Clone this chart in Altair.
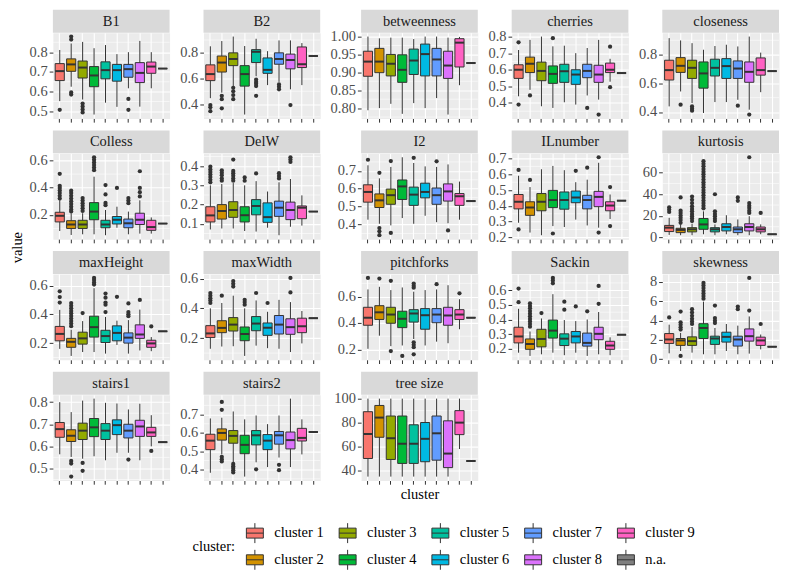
import altair as alt
import pandas as pd

FONT = "Liberation Serif"
CLUSTERS = [f"cluster {i}" for i in range(1, 10)] + ["n.a."]
COLORS = ["#F8766D", "#D39200", "#93AA00", "#00BA38", "#00C19F",
          "#00B9E3", "#619CFF", "#DB72FB", "#FF61C3", "#7F7F7F"]

# per cluster: [lower whisker, q1, median, q3, upper whisker]
B1_stats = [[0.552, 0.656, 0.704, 0.742, 0.811], [0.625, 0.703, 0.738, 0.766, 0.844],
            [0.560, 0.669, 0.722, 0.755, 0.852], [0.484, 0.625, 0.682, 0.727, 0.820],
            [0.544, 0.665, 0.709, 0.751, 0.836], [0.523, 0.653, 0.709, 0.738, 0.790],
            [0.617, 0.673, 0.714, 0.738, 0.800], [0.524, 0.646, 0.695, 0.747, 0.857],
            [0.617, 0.693, 0.727, 0.750, 0.800], [0.717, 0.717, 0.717, 0.717, 0.717]]
B1_out = [[0.508], [0.879, 0.864, 0.596, 0.585], [0.540, 0.525, 0.510, 0.495], [], [], [],
          [0.563, 0.508], [], [], []]

B2_stats = [[0.446, 0.583, 0.634, 0.706, 0.851], [0.489, 0.650, 0.724, 0.775, 0.892],
            [0.540, 0.700, 0.752, 0.800, 0.927], [0.318, 0.540, 0.634, 0.700, 0.853],
            [0.617, 0.724, 0.808, 0.825, 0.910], [0.548, 0.640, 0.667, 0.760, 0.813],
            [0.573, 0.711, 0.752, 0.800, 0.897], [0.515, 0.675, 0.744, 0.790, 0.897],
            [0.548, 0.685, 0.711, 0.846, 0.876], [0.775, 0.775, 0.775, 0.775, 0.775]]
B2_out = [[0.392, 0.375, 0.344], [0.464, 0.438, 0.367], [0.527, 0.500, 0.470, 0.438], [],
          [0.591, 0.573, 0.558, 0.540, 0.464], [], [0.553, 0.535, 0.515], [0.392], [], []]

betweenness_stats = [[0.794, 0.889, 0.930, 0.959, 1.000], [0.800, 0.899, 0.930, 0.967, 0.995],
                     [0.812, 0.890, 0.924, 0.950, 0.997], [0.784, 0.872, 0.907, 0.949, 0.997],
                     [0.814, 0.894, 0.933, 0.965, 0.993], [0.800, 0.890, 0.951, 0.979, 1.000],
                     [0.828, 0.890, 0.936, 0.967, 1.000], [0.782, 0.883, 0.919, 0.959, 0.997],
                     [0.864, 0.915, 0.983, 0.994, 0.999], [0.926, 0.926, 0.926, 0.926, 0.926]]
betweenness_out = [[], [], [], [], [], [], [], [], [], []]

cherries_stats = [[0.440, 0.548, 0.600, 0.630, 0.719], [0.479, 0.583, 0.636, 0.676, 0.780],
                  [0.380, 0.534, 0.593, 0.646, 0.800], [0.370, 0.518, 0.575, 0.623, 0.741],
                  [0.404, 0.524, 0.591, 0.633, 0.745], [0.390, 0.512, 0.571, 0.600, 0.700],
                  [0.445, 0.552, 0.593, 0.633, 0.731], [0.420, 0.524, 0.571, 0.627, 0.780],
                  [0.528, 0.583, 0.600, 0.640, 0.666], [0.580, 0.580, 0.580, 0.580, 0.580]]
cherries_out = [[0.765, 0.390], [0.445], [], [0.790], [], [], [0.370], [0.330], [0.739, 0.495], []]

closeness_stats = [[0.439, 0.623, 0.692, 0.761, 0.915], [0.543, 0.676, 0.722, 0.779, 0.899],
                   [0.462, 0.634, 0.708, 0.761, 0.880], [0.393, 0.566, 0.669, 0.749, 0.834],
                   [0.469, 0.651, 0.708, 0.768, 0.860], [0.469, 0.634, 0.720, 0.772, 0.869],
                   [0.485, 0.634, 0.703, 0.756, 0.857], [0.416, 0.607, 0.680, 0.749, 0.926],
                   [0.538, 0.657, 0.692, 0.777, 0.814], [0.685, 0.685, 0.685, 0.685, 0.685]]
closeness_out = [[], [0.451], [0.439, 0.423, 0.409], [], [], [], [0.444], [0.382], [], []]

Colless_stats = [[0.081, 0.148, 0.193, 0.219, 0.307], [0.052, 0.100, 0.129, 0.157, 0.212],
                 [0.057, 0.100, 0.129, 0.160, 0.212], [0.057, 0.164, 0.224, 0.290, 0.481],
                 [0.050, 0.105, 0.129, 0.160, 0.236], [0.105, 0.133, 0.164, 0.188, 0.260],
                 [0.057, 0.105, 0.138, 0.169, 0.224], [0.062, 0.129, 0.164, 0.212, 0.307],
                 [0.062, 0.086, 0.110, 0.160, 0.181], [0.136, 0.136, 0.136, 0.136, 0.136]]
Colless_out = [[0.502, 0.414, 0.398, 0.380, 0.360, 0.340, 0.320],
               [0.378, 0.360, 0.340, 0.320, 0.300, 0.280, 0.260, 0.240, 0.225],
               [0.324, 0.305, 0.286, 0.267, 0.248, 0.229],
               [0.624, 0.605, 0.586, 0.567, 0.548, 0.529],
               [0.419, 0.350, 0.288, 0.271], [0.398], [0.324, 0.305, 0.286],
               [0.521, 0.398, 0.367, 0.336], [], []]

DelW_stats = [[0.071, 0.110, 0.144, 0.189, 0.300], [0.076, 0.125, 0.167, 0.200, 0.307],
              [0.076, 0.134, 0.172, 0.215, 0.312], [0.063, 0.110, 0.145, 0.189, 0.300],
              [0.060, 0.147, 0.193, 0.226, 0.322], [0.080, 0.108, 0.135, 0.209, 0.268],
              [0.041, 0.139, 0.184, 0.218, 0.316], [0.085, 0.122, 0.172, 0.213, 0.333],
              [0.091, 0.127, 0.184, 0.193, 0.248], [0.164, 0.164, 0.164, 0.164, 0.164]]
DelW_out = [[0.397, 0.383, 0.370, 0.356, 0.343, 0.329, 0.316],
            [0.378, 0.366, 0.353, 0.336, 0.324],
            [0.434, 0.375, 0.363, 0.350, 0.336, 0.324],
            [0.341, 0.324], [0.362], [], [0.363, 0.349, 0.336], [0.446, 0.434, 0.422], [], []]

I2_stats = [[0.427, 0.525, 0.582, 0.622, 0.731], [0.404, 0.495, 0.535, 0.571, 0.658],
            [0.395, 0.513, 0.564, 0.598, 0.722], [0.436, 0.540, 0.613, 0.649, 0.776],
            [0.404, 0.507, 0.567, 0.609, 0.744], [0.449, 0.549, 0.582, 0.631, 0.725],
            [0.413, 0.513, 0.564, 0.604, 0.722], [0.407, 0.531, 0.585, 0.627, 0.736],
            [0.427, 0.507, 0.558, 0.573, 0.640], [0.531, 0.531, 0.531, 0.531, 0.531]]
I2_out = [[0.762], [0.689, 0.380, 0.362, 0.340], [0.755, 0.353], [], [0.773], [], [0.753],
          [0.367], [], []]

ILnumber_stats = [[0.293, 0.381, 0.426, 0.472, 0.591], [0.231, 0.340, 0.389, 0.426, 0.519],
                  [0.214, 0.369, 0.426, 0.478, 0.632], [0.272, 0.389, 0.437, 0.498, 0.653],
                  [0.266, 0.379, 0.437, 0.488, 0.626], [0.313, 0.420, 0.453, 0.494, 0.550],
                  [0.276, 0.381, 0.437, 0.467, 0.566], [0.262, 0.395, 0.457, 0.492, 0.673],
                  [0.317, 0.369, 0.402, 0.426, 0.472], [0.433, 0.433, 0.433, 0.433, 0.433]]
ILnumber_out = [[0.628, 0.251], [0.564], [], [0.225], [], [0.622], [0.642], [0.708, 0.231],
                [0.519, 0.272], []]

kurtosis_stats = [[2.4, 5.5, 9.1, 11.2, 18.2], [2.1, 4.5, 7.0, 8.5, 12.1],
                  [2.1, 5.2, 7.6, 9.1, 12.7], [3.0, 7.6, 12.1, 17.6, 24.2],
                  [2.1, 5.2, 7.6, 9.1, 12.1], [3.0, 6.1, 9.7, 12.7, 20.6],
                  [2.1, 4.5, 7.6, 9.7, 16.7], [2.1, 6.1, 9.7, 12.7, 19.7],
                  [3.0, 5.2, 7.6, 9.7, 12.1], [3.0, 3.0, 3.0, 3.0, 3.0]]
kurtosis_out = [[27.9, 25.8, 23.6],
                [37.0, 24.8, 22.7, 20.3, 18.2, 16.1, 13.6],
                [37.9, 34.8, 31.8, 28.8, 26.4, 24.2, 21.8, 19.7, 17.6, 15.2],
                [70.6, 68.2, 65.8, 63.3, 60.9, 58.5, 56.1, 53.6, 51.2, 48.8, 46.4, 43.9,
                 41.5, 39.1, 36.7, 34.2, 31.8, 29.4, 27.0],
                [40.0, 24.2, 21.8, 19.7, 17.3, 15.2], [], [37.0, 33.9],
                [74.2, 31.8, 29.4, 27.3, 24.8, 22.7], [22.7], []]

maxHeight_stats = [[0.160, 0.216, 0.264, 0.316, 0.431], [0.111, 0.171, 0.209, 0.233, 0.293],
                   [0.138, 0.193, 0.233, 0.276, 0.353], [0.138, 0.242, 0.311, 0.387, 0.582],
                   [0.127, 0.204, 0.249, 0.289, 0.382], [0.187, 0.216, 0.271, 0.320, 0.356],
                   [0.127, 0.200, 0.238, 0.271, 0.360], [0.149, 0.233, 0.260, 0.327, 0.433],
                   [0.144, 0.171, 0.198, 0.220, 0.242], [0.282, 0.282, 0.282, 0.282, 0.282]]
maxHeight_out = [[0.560, 0.520, 0.482],
                 [0.478, 0.460, 0.442, 0.424, 0.407, 0.389, 0.371, 0.353, 0.336, 0.318],
                 [0.409], [0.653, 0.638, 0.622, 0.607],
                 [0.544, 0.516, 0.482, 0.467, 0.416], [0.522], [0.476, 0.416, 0.400, 0.387],
                 [0.500], [0.316], []]

maxWidth_stats = [[0.129, 0.204, 0.232, 0.284, 0.400], [0.144, 0.237, 0.269, 0.317, 0.436],
                  [0.146, 0.248, 0.291, 0.338, 0.485], [0.081, 0.183, 0.228, 0.275, 0.400],
                  [0.150, 0.250, 0.298, 0.345, 0.453], [0.133, 0.219, 0.270, 0.302, 0.377],
                  [0.129, 0.228, 0.291, 0.352, 0.457], [0.107, 0.226, 0.274, 0.330, 0.442],
                  [0.165, 0.237, 0.280, 0.334, 0.382], [0.334, 0.334, 0.334, 0.334, 0.334]]
maxWidth_out = [[0.503, 0.485, 0.468, 0.453, 0.436], [0.485], [0.583, 0.565, 0.546],
                [0.457, 0.442, 0.425], [0.503], [0.436], [], [0.604, 0.507], [], []]

pitchforks_stats = [[0.205, 0.383, 0.440, 0.519, 0.654], [0.304, 0.427, 0.481, 0.531, 0.674],
                    [0.225, 0.398, 0.464, 0.519, 0.649], [0.230, 0.365, 0.432, 0.489, 0.669],
                    [0.279, 0.407, 0.472, 0.501, 0.637], [0.230, 0.353, 0.459, 0.509, 0.649],
                    [0.259, 0.402, 0.464, 0.509, 0.654], [0.247, 0.383, 0.457, 0.519, 0.686],
                    [0.353, 0.427, 0.464, 0.501, 0.580], [0.440, 0.440, 0.440, 0.440, 0.440]]
pitchforks_out = [[0.741], [0.736], [0.719, 0.188], [0.151],
                  [0.699, 0.681, 0.667, 0.254, 0.235, 0.217, 0.163], [], [0.694], [], [0.625], []]

Sackin_stats = [[0.173, 0.240, 0.284, 0.347, 0.473], [0.151, 0.196, 0.233, 0.267, 0.318],
                [0.162, 0.213, 0.267, 0.333, 0.407], [0.173, 0.273, 0.324, 0.396, 0.573],
                [0.156, 0.222, 0.269, 0.302, 0.396], [0.173, 0.240, 0.284, 0.318, 0.389],
                [0.151, 0.218, 0.240, 0.307, 0.400], [0.162, 0.262, 0.302, 0.347, 0.451],
                [0.156, 0.196, 0.222, 0.251, 0.278], [0.296, 0.296, 0.296, 0.296, 0.296]]
Sackin_out = [[0.611, 0.518],
              [0.511, 0.493, 0.476, 0.458, 0.440, 0.422, 0.404, 0.387, 0.369, 0.351],
              [0.444], [0.684, 0.667, 0.647], [0.522, 0.467], [0.489], [0.456],
              [0.629, 0.507], [], []]

skewness_stats = [[0.61, 1.63, 2.04, 2.65, 3.57], [0.85, 1.43, 1.94, 2.14, 2.72],
                  [0.68, 1.43, 1.87, 2.31, 3.33], [0.51, 2.14, 3.23, 3.67, 5.95],
                  [0.51, 1.53, 2.14, 2.38, 3.23], [0.85, 1.77, 2.31, 2.79, 3.64],
                  [0.51, 1.36, 2.04, 2.38, 3.47], [0.58, 1.87, 2.38, 3.13, 4.42],
                  [1.02, 1.43, 1.94, 2.28, 2.55], [1.29, 1.29, 1.29, 1.29, 1.29]]
skewness_out = [[4.32], [4.93, 3.81, 3.57, 3.30, 3.06, 0.34],
                [5.17, 4.83, 4.49, 4.18, 3.91, 3.64],
                [7.89, 7.62, 7.35, 7.07, 6.80, 6.53, 6.26],
                [5.54, 4.25, 3.98, 3.74], [], [5.44, 5.17], [8.40, 5.03], [3.64], []]

stairs1_stats = [[0.564, 0.641, 0.678, 0.708, 0.800], [0.552, 0.622, 0.648, 0.675, 0.755],
                 [0.544, 0.631, 0.671, 0.705, 0.807], [0.555, 0.644, 0.686, 0.726, 0.816],
                 [0.537, 0.631, 0.671, 0.703, 0.797], [0.571, 0.653, 0.696, 0.720, 0.794],
                 [0.571, 0.638, 0.671, 0.700, 0.767], [0.537, 0.645, 0.690, 0.718, 0.793],
                 [0.600, 0.645, 0.663, 0.686, 0.741], [0.619, 0.619, 0.619, 0.619, 0.619]]
stairs1_out = [[], [0.534, 0.522, 0.463], [0.525, 0.489], [], [], [], [0.540], [], [0.579], []]

stairs2_stats = [[0.383, 0.509, 0.558, 0.593, 0.679], [0.483, 0.561, 0.600, 0.622, 0.683],
                 [0.440, 0.544, 0.584, 0.613, 0.717], [0.362, 0.487, 0.535, 0.587, 0.674],
                 [0.440, 0.535, 0.587, 0.613, 0.695], [0.414, 0.509, 0.558, 0.591, 0.648],
                 [0.466, 0.539, 0.587, 0.608, 0.695], [0.414, 0.513, 0.561, 0.605, 0.787],
                 [0.483, 0.556, 0.573, 0.625, 0.674], [0.605, 0.605, 0.605, 0.605, 0.605]]
stairs2_out = [[], [0.769, 0.726, 0.470, 0.457, 0.445], [0.431, 0.419, 0.409, 0.397, 0.385],
               [], [0.402], [], [0.426, 0.397], [], [], []]

treesize_stats = [[35, 50.1, 70.5, 89.1, 100], [35, 67.8, 84.2, 94.3, 100],
                  [35, 49.3, 67.0, 85.5, 100], [35, 46.0, 62.4, 85.5, 100],
                  [35, 46.0, 62.4, 78.2, 100], [35, 47.4, 66.5, 80.1, 100],
                  [35, 48.7, 71.1, 85.5, 100], [35, 42.5, 54.2, 81.5, 100],
                  [58, 70.0, 80.0, 90.0, 100], [48, 48, 48, 48, 48]]
treesize_out = [[], [], [], [], [], [], [], [], [], []]

PANELS = [
    ("B1", B1_stats, B1_out, [0.5, 0.6, 0.7, 0.8], ".1f"),
    ("B2", B2_stats, B2_out, [0.4, 0.6, 0.8], ".1f"),
    ("betweenness", betweenness_stats, betweenness_out, [0.80, 0.85, 0.90, 0.95, 1.00], ".2f"),
    ("cherries", cherries_stats, cherries_out, [0.4, 0.5, 0.6, 0.7, 0.8], ".1f"),
    ("closeness", closeness_stats, closeness_out, [0.4, 0.6, 0.8], ".1f"),
    ("Colless", Colless_stats, Colless_out, [0.2, 0.4, 0.6], ".1f"),
    ("DelW", DelW_stats, DelW_out, [0.1, 0.2, 0.3, 0.4], ".1f"),
    ("I2", I2_stats, I2_out, [0.4, 0.5, 0.6, 0.7], ".1f"),
    ("ILnumber", ILnumber_stats, ILnumber_out, [0.2, 0.3, 0.4, 0.5, 0.6, 0.7], ".1f"),
    ("kurtosis", kurtosis_stats, kurtosis_out, [0, 20, 40, 60], "d"),
    ("maxHeight", maxHeight_stats, maxHeight_out, [0.2, 0.4, 0.6], ".1f"),
    ("maxWidth", maxWidth_stats, maxWidth_out, [0.2, 0.4, 0.6], ".1f"),
    ("pitchforks", pitchforks_stats, pitchforks_out, [0.2, 0.4, 0.6], ".1f"),
    ("Sackin", Sackin_stats, Sackin_out, [0.2, 0.3, 0.4, 0.5, 0.6], ".1f"),
    ("skewness", skewness_stats, skewness_out, [0, 2, 4, 6, 8], "d"),
    ("stairs1", stairs1_stats, stairs1_out, [0.5, 0.6, 0.7, 0.8], ".1f"),
    ("stairs2", stairs2_stats, stairs2_out, [0.4, 0.5, 0.6, 0.7], ".1f"),
    ("tree size", treesize_stats, treesize_out, [40, 60, 80, 100], "d"),
]

# legend order fills row-wise: makes it read column-wise like the original
LEG_ORDER = [0, 2, 4, 6, 8, 1, 3, 5, 7, 9]
LEG_DOMAIN = [CLUSTERS[i] for i in LEG_ORDER]
LEG_RANGE = [COLORS[i] for i in LEG_ORDER]

W, H, STRIP = 117, 86, 23
STEP = W / 10.2
BOXF = 0.8
FS = 14.5
DARK = "#333333"
BOX_SYMBOL = ("M-0.85,-0.5H0.85V0.5H-0.85Z M0,-1V-0.5 M0,0.5V1 M-0.85,0H0.85")

legend = alt.Legend(
    title="cluster:", orient="none", legendX=140, legendY=491, direction="horizontal",
    columns=5, titleOrient="left", titleAnchor="middle", titleFontWeight="normal",
    titleFontSize=FS, titleFont=FONT, titleColor="black", titlePadding=9,
    labelFontSize=FS, labelFont=FONT, labelColor="black", labelOffset=9,
    symbolType=BOX_SYMBOL, symbolSize=400, symbolStrokeColor=DARK, symbolStrokeWidth=1,
    symbolOpacity=1, columnPadding=13, rowPadding=2)


def panel(name, stats, outs, ticks, fmt, xtitle=None, ytitle=None):
    box = pd.DataFrame([dict(cluster=c, lo=s[0], q1=s[1], med=s[2], q3=s[3], hi=s[4])
                        for c, s in zip(CLUSTERS, stats)])
    out = pd.DataFrame([dict(cluster=c, v=v) for c, o in zip(CLUSTERS, outs) for v in o],
                       columns=["cluster", "v"])
    vals = [v for s in stats for v in s] + [v for o in outs for v in o]
    vmin, vmax = min(vals), max(vals)
    pad = 0.05 * (vmax - vmin)
    dom = [vmin - pad, vmax + pad]
    d = ticks[1] - ticks[0]
    minors = [t - d / 2 for t in ticks] + [ticks[-1] + d / 2]
    minors = [m for m in minors if dom[0] < m < dom[1]]

    xax_kw = dict(labels=False, domain=False, grid=True, gridColor="white", gridWidth=1.1,
                  tickColor=DARK, tickSize=3.7, tickWidth=1, bandPosition=0.5)
    if xtitle:
        xax = alt.Axis(title=xtitle, titleFont=FONT, titleFontSize=FS, titleFontWeight="normal",
                       titleColor="black", titlePadding=3, **xax_kw)
    else:
        xax = alt.Axis(title=None, **xax_kw)
    yax_kw = dict(values=ticks, format=fmt, domain=False, grid=True, gridColor="white",
                  gridWidth=1.1, tickColor=DARK, tickSize=3.7, tickWidth=1,
                  labelColor="#4D4D4D", labelFont=FONT, labelFontSize=FS, labelPadding=2)
    if ytitle:
        yax = alt.Axis(title=ytitle, titleFont=FONT, titleFontSize=FS, titleFontWeight="normal",
                       titleColor="black", titlePadding=5, titleY=94, **yax_kw)
    else:
        yax = alt.Axis(title=None, **yax_kw)

    xs = alt.Scale(domain=CLUSTERS, paddingInner=0, paddingOuter=0.1)
    ys = alt.Scale(domain=dom, nice=False, zero=False)
    X = alt.X("cluster:N", scale=xs, axis=xax)

    def Y(f):
        return alt.Y(f, type="quantitative", scale=ys, axis=yax)

    layers = []
    layers.append(alt.Chart(pd.DataFrame({"m": minors}, columns=["m"]))
                  .mark_rule(color="white", strokeWidth=0.55).encode(y=Y("m")))
    base = alt.Chart(box)
    layers.append(base.mark_rule(color=DARK, strokeWidth=1).encode(x=X, y=Y("lo"), y2="hi"))
    layers.append(base.mark_bar(stroke=DARK, strokeWidth=1, width=alt.RelativeBandSize(BOXF))
                  .encode(x=X, y=Y("q1"), y2="q3",
                          fill=alt.Fill("cluster:N",
                                        scale=alt.Scale(domain=LEG_DOMAIN, range=LEG_RANGE),
                                        legend=legend)))
    layers.append(base.mark_tick(color=DARK, size=BOXF * STEP, thickness=2, opacity=1)
                  .encode(x=X, y=Y("med")))
    if len(out):
        layers.append(alt.Chart(out).mark_circle(color=DARK, size=18, opacity=1)
                      .encode(x=X, y=Y("v")))
    one = alt.Data(values=[{}])
    layers.append(alt.Chart(one).mark_rect(fill="#D9D9D9")
                  .encode(x=alt.value(0), x2=alt.value(W), y=alt.value(-STRIP), y2=alt.value(0)))
    layers.append(alt.Chart(one).mark_text(text=name, font=FONT, fontSize=FS, color="#1A1A1A",
                                           baseline="middle", align="center")
                  .encode(x=alt.value(W / 2), y=alt.value(-STRIP / 2 + 0.5)))
    return alt.layer(*layers).properties(width=W, height=H)


panels = []
for name, stats, outs, ticks, fmt in PANELS:
    panels.append(panel(name, stats, outs, ticks, fmt,
                        xtitle="cluster" if name == "tree size" else None,
                        ytitle="value" if name == "Colless" else None))

# arrange as 5 columns (facet_wrap order: row by row)
NCOL = 5
columns = []
for c in range(NCOL):
    col_panels = panels[c::NCOL]
    columns.append(alt.vconcat(*col_panels, spacing=35, bounds="flush")
                   .resolve_scale(x="independent", y="independent", fill="shared"))

chart = (alt.concat(*columns, columns=NCOL, spacing=8, bounds="full", align="none")
         .resolve_scale(x="independent", y="independent", fill="shared")
         .properties(padding=0)
         .configure(font=FONT)
         .configure_view(fill="#EBEBEB", stroke="transparent"))

chart.save("out.html", embed_options={"renderer": "svg", "actions": False})
